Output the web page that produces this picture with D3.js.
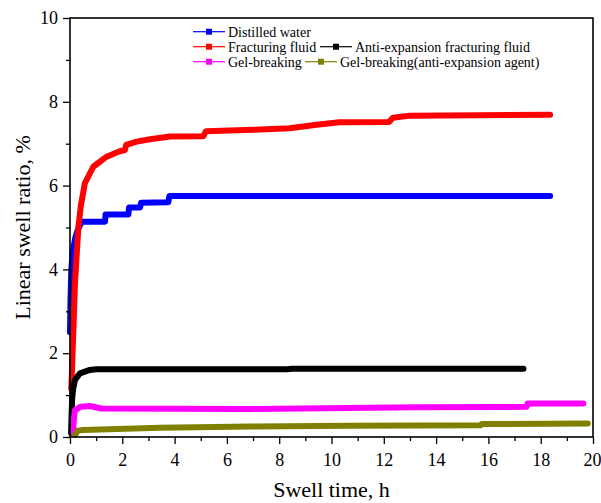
<!DOCTYPE html>
<html>
<head>
<meta charset="utf-8">
<script src="https://cdn.jsdelivr.net/npm/d3@7"></script>
<style>
  html, body { margin: 0; padding: 0; background: #fff; }
  svg text { font-family: "Liberation Serif", "Times New Roman", serif !important; fill: #000; }
</style>
</head>
<body>
<svg id="chart" width="601" height="503"></svg>
<script>
// Swell time (h) and linear swell ratio (%) for each fluid
const waterTime = [0, 0.02, 0.05, 0.1, 0.2, 0.3, 0.45, 1.34, 1.36, 2.23, 2.26, 2.68, 2.72, 3.76, 3.8, 18.36];
const waterRatio = [2.5, 3.3, 4.0, 4.4, 4.75, 4.95, 5.14, 5.14, 5.31, 5.31, 5.48, 5.48, 5.59, 5.6, 5.75, 5.75];

const fracTime = [0.05, 0.13, 0.19, 0.32, 0.41, 0.57, 0.89, 1.4, 1.9, 2.1, 2.15, 2.55, 3.0, 3.82, 5.1, 5.2, 7.0, 8.4, 9.43, 10.3, 12.2, 12.35, 13.0, 18.36];
const fracRatio = [1.15, 2.55, 3.67, 5.0, 5.5, 6.06, 6.45, 6.69, 6.82, 6.85, 6.97, 7.05, 7.1, 7.17, 7.18, 7.3, 7.33, 7.37, 7.45, 7.51, 7.52, 7.62, 7.67, 7.69];

const antiFracTime = [0.04, 0.08, 0.12, 0.19, 0.38, 0.76, 1.0, 8.3, 8.5, 17.34];
const antiFracRatio = [0.1, 0.9, 1.15, 1.36, 1.52, 1.6, 1.615, 1.615, 1.63, 1.63];

const gelTime = [0.12, 0.15, 0.19, 0.4, 0.76, 1.2, 6.9, 13.26, 17.46, 17.5, 19.63];
const gelRatio = [0.1, 0.45, 0.64, 0.72, 0.74, 0.68, 0.67, 0.71, 0.72, 0.8, 0.8];

const gelAntiTime = [0.2, 0.3, 0.5, 3.44, 6.88, 10.7, 15.7, 15.75, 19.8];
const gelAntiRatio = [0.05, 0.15, 0.17, 0.22, 0.25, 0.27, 0.28, 0.31, 0.32];

const seriesNames = ["Distilled water", "Fracturing fluid", "Anti-expansion fracturing fluid", "Gel-breaking", "Gel-breaking(anti-expansion agent)"];
const seriesColors = ["#0000ff", "#ff0000", "#000000", "#ff00ff", "#808000"];

const xTicks = [0, 2, 4, 6, 8, 10, 12, 14, 16, 18, 20];
const yTicks = [0, 2, 4, 6, 8, 10];

const FONT = "'Liberation Serif', 'Times New Roman', serif";

const series = [
  [waterTime, waterRatio],
  [fracTime, fracRatio],
  [antiFracTime, antiFracRatio],
  [gelTime, gelRatio],
  [gelAntiTime, gelAntiRatio]
].map(([t, v], i) => ({
  name: seriesNames[i],
  color: seriesColors[i],
  points: t.map((d, j) => ({ t: d, v: v[j] }))
}));

const svg = d3.select("#chart");
const plot = { left: 70, right: 593, top: 18, bottom: 437 };

const x = d3.scaleLinear().domain([0, 20]).range([plot.left, plot.right]);
const y = d3.scaleLinear().domain([0, 10]).range([plot.bottom, plot.top]);

// Curves
const line = d3.line().x(d => x(d.t)).y(d => y(d.v));
const gCurves = svg.append("g");
series.forEach(s => {
  gCurves.append("path")
    .datum(s.points)
    .attr("d", line)
    .attr("fill", "none")
    .attr("stroke", s.color)
    .attr("stroke-width", 6)
    .attr("stroke-linejoin", "round")
    .attr("stroke-linecap", "round");
});

// Axes with outward major and minor ticks
function styleAxis(g) {
  g.attr("font-family", FONT);
  g.selectAll(".domain").remove();
  g.selectAll(".tick line").attr("stroke", "#000").attr("stroke-width", 1.3);
  g.selectAll(".tick text")
    .attr("font-family", FONT)
    .style("font-size", "18px");
}

const xMinor = d3.range(1, 20, 2);
const yMinor = d3.range(1, 10, 2);

svg.append("g")
  .attr("transform", `translate(0,${plot.bottom})`)
  .call(d3.axisBottom(x).tickValues(xMinor).tickSize(4).tickFormat(""))
  .call(styleAxis);
const xAxis = svg.append("g")
  .attr("transform", `translate(0,${plot.bottom})`)
  .call(d3.axisBottom(x).tickValues(xTicks).tickSize(7).tickPadding(9).tickFormat(d3.format("d")))
  .call(styleAxis);
// keep the last label inside the page edge
xAxis.selectAll(".tick text").filter(d => d === 20).attr("dx", -1);

svg.append("g")
  .attr("transform", `translate(${plot.left},0)`)
  .call(d3.axisLeft(y).tickValues(yMinor).tickSize(4).tickFormat(""))
  .call(styleAxis);
svg.append("g")
  .attr("transform", `translate(${plot.left},0)`)
  .call(d3.axisLeft(y).tickValues(yTicks).tickSize(7).tickPadding(5).tickFormat(d3.format("d")))
  .call(styleAxis);

// Frame
svg.append("rect")
  .attr("x", plot.left).attr("y", plot.top)
  .attr("width", plot.right - plot.left).attr("height", plot.bottom - plot.top)
  .attr("fill", "none").attr("stroke", "#000").attr("stroke-width", 1.6);

// Axis titles
svg.append("text")
  .attr("x", (plot.left + plot.right) / 2).attr("y", 497)
  .attr("text-anchor", "middle")
  .attr("font-family", FONT)
  .style("font-size", "22px")
  .text("Swell time, h");

svg.append("text")
  .attr("transform", `translate(30,${(plot.top + plot.bottom) / 2}) rotate(-90)`)
  .attr("text-anchor", "middle")
  .attr("font-family", FONT)
  .style("font-size", "22px")
  .text("Linear swell ratio, %");

// Legend
const legendItems = [
  { i: 0, x: 193, y: 31.7 },
  { i: 1, x: 193, y: 46.7 },
  { i: 2, x: 320, y: 46.7 },
  { i: 3, x: 193, y: 61.7 },
  { i: 4, x: 305, y: 61.7 }
];
const legend = svg.append("g");
legendItems.forEach(it => {
  const s = series[it.i];
  const g = legend.append("g").attr("transform", `translate(${it.x},${it.y})`);
  g.append("line").attr("x1", 0).attr("x2", 32).attr("y1", 0).attr("y2", 0)
    .attr("stroke", s.color).attr("stroke-width", 1.2);
  g.append("rect").attr("x", 13).attr("y", -3).attr("width", 6).attr("height", 6)
    .attr("fill", s.color);
  g.append("text").attr("x", 35).attr("y", 5)
    .attr("font-family", FONT)
    .style("font-size", "14px")
    .text(s.name);
});
</script>
</body>
</html>
